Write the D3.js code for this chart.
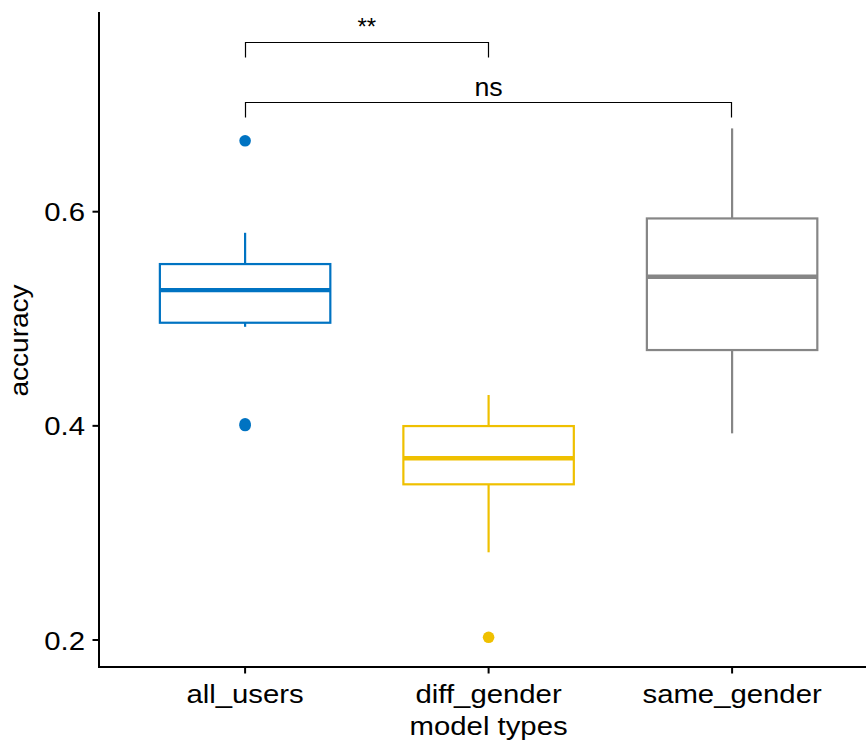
<!DOCTYPE html>
<html><head><meta charset="utf-8">
<script src="https://cdn.jsdelivr.net/npm/d3@7"></script>
<style>body{margin:0;background:#fff}</style>
</head><body>
<script>
const categories = ["all_users", "diff_gender", "same_gender"];
const colors = ["#0073C2", "#EFC000", "#868686"];
const q1 = [0.4963, 0.3454, 0.4708];
const median = [0.5268, 0.3697, 0.5392];
const q3 = [0.5511, 0.3998, 0.5937];
const whiskerLow = [0.4925, 0.2819, 0.3930];
const whiskerHigh = [0.5803, 0.4288, 0.6778];
const outliers = [[0.6662, 0.4018, 0.4003], [0.2025], []];
const yTicks = [0.2, 0.4, 0.6];
const comparisons = [
  {from: 0, to: 1, y: 0.7585, label: "**"},
  {from: 0, to: 2, y: 0.7022, label: "ns"}
];

const W = 866, H = 743;
const FS = 25.5, SX = 1.15;
const svg = d3.select("body").append("svg").attr("width", W).attr("height", H)
  .style("font-family", "'Liberation Sans', Arial, sans-serif");

const padL = 99, padB = 667, padT = 12;
const x = d3.scaleLinear().domain([-0.6, 2.6]).range([padL, padL + 243.5 * 3.2]);
const y = d3.scaleLinear().domain([0.2, 0.6]).range([640, 211.7]);
const bw = 0.7 * 243.5;

// boxes
categories.forEach((c, i) => {
  const g = svg.append("g");
  const cx = x(i), col = colors[i];
  g.append("line").attr("x1", cx).attr("x2", cx).attr("y1", y(whiskerHigh[i])).attr("y2", y(q3[i]))
    .attr("stroke", col).attr("stroke-width", 2.2);
  g.append("line").attr("x1", cx).attr("x2", cx).attr("y1", y(q1[i])).attr("y2", y(whiskerLow[i]))
    .attr("stroke", col).attr("stroke-width", 2.2);
  g.append("rect").attr("x", cx - bw / 2).attr("width", bw)
    .attr("y", y(q3[i])).attr("height", y(q1[i]) - y(q3[i]))
    .attr("fill", "#fff").attr("stroke", col).attr("stroke-width", 2.2);
  g.append("line").attr("x1", cx - bw / 2).attr("x2", cx + bw / 2)
    .attr("y1", y(median[i])).attr("y2", y(median[i]))
    .attr("stroke", col).attr("stroke-width", 4.4);
  g.selectAll("circle").data(outliers[i]).join("circle")
    .attr("cx", cx).attr("cy", d => y(d)).attr("r", 5.8).attr("fill", col);
});

function label(px, py, txt, anchor, sx, size) {
  return svg.append("text").attr("transform", `translate(${px},${py}) scale(${sx},1)`)
    .attr("text-anchor", anchor).attr("font-size", size).attr("fill", "#000").text(txt);
}

// axes
svg.append("line").attr("x1", padL).attr("x2", padL).attr("y1", padT).attr("y2", padB + 1)
  .attr("stroke", "#000").attr("stroke-width", 2);
yTicks.forEach(t => {
  svg.append("line").attr("x1", padL - 6.5).attr("x2", padL).attr("y1", y(t)).attr("y2", y(t))
    .attr("stroke", "#000").attr("stroke-width", 2);
  label(85, y(t) + 9.5, t.toFixed(1), "end", SX, FS);
});
svg.append("line").attr("x1", padL - 1).attr("x2", W).attr("y1", padB).attr("y2", padB)
  .attr("stroke", "#000").attr("stroke-width", 2);
categories.forEach((c, i) => {
  svg.append("line").attr("x1", x(i)).attr("x2", x(i)).attr("y1", padB).attr("y2", padB + 6.5)
    .attr("stroke", "#000").attr("stroke-width", 2);
  label(x(i), padB + 35.5, c, "middle", SX, FS);
});
label(x(1), 734.5, "model types", "middle", SX, FS);
svg.append("text")
  .attr("transform", `translate(28,${(padT + padB) / 2 + 1}) rotate(-90) scale(1.1,1)`)
  .attr("text-anchor", "middle").attr("font-size", FS).attr("fill", "#000").text("accuracy");

// brackets
comparisons.forEach(cp => {
  const yy = Math.round(y(cp.y)) + 0.5, tick = 15;
  const x1 = Math.round(x(cp.from)) + 0.5, x2 = Math.round(x(cp.to)) - 0.5;
  svg.append("path")
    .attr("d", `M${x1},${yy + tick}V${yy}H${x2}V${yy + tick}`)
    .attr("fill", "none").attr("stroke", "#000").attr("stroke-width", 1.2);
  const mx = (x(cp.from) + x(cp.to)) / 2;
  if (cp.label === "**") label(mx, yy - 8, cp.label, "middle", 1, 24);
  else label(mx, yy - 6.5, cp.label, "middle", 1.05, FS);
});
</script>
</body></html>
